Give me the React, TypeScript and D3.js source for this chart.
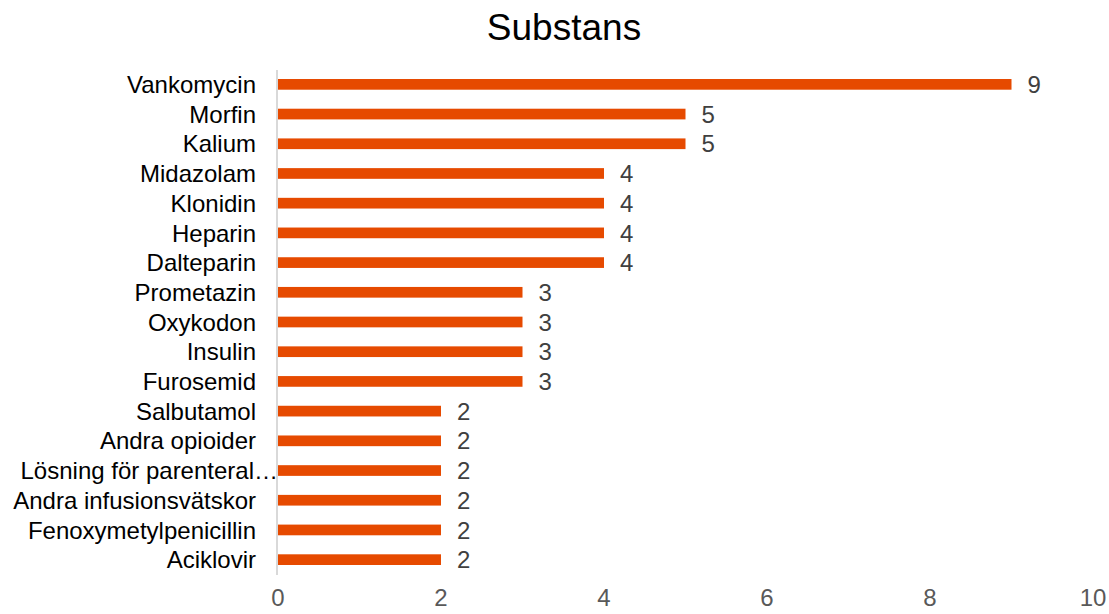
import React, { useEffect, useRef } from "react";
import * as d3 from "d3";

const categories = [
  "Vankomycin",
  "Morfin",
  "Kalium",
  "Midazolam",
  "Klonidin",
  "Heparin",
  "Dalteparin",
  "Prometazin",
  "Oxykodon",
  "Insulin",
  "Furosemid",
  "Salbutamol",
  "Andra opioider",
  "Lösning för parenteral…",
  "Andra infusionsvätskor",
  "Fenoxymetylpenicillin",
  "Aciklovir",
];
const values = [9, 5, 5, 4, 4, 4, 4, 3, 3, 3, 3, 2, 2, 2, 2, 2, 2];
const xTicks = [0, 2, 4, 6, 8, 10];
const title = "Substans";

const font = "'Liberation Sans', Arial, sans-serif";

export default function App() {
  const ref = useRef<SVGSVGElement>(null);

  useEffect(() => {
    if (!ref.current) return;
    const width = 1109;
    const height = 614;
    const svg = d3.select(ref.current);
    svg.selectAll("*").remove();

    const x = d3.scaleLinear().domain([0, 10]).range([278, 1093]);
    const y = d3
      .scaleBand()
      .domain(categories)
      .range([69.5, 574.5])
      .paddingInner(0.64)
      .paddingOuter(0.32);

    svg
      .append("rect")
      .attr("width", width)
      .attr("height", height)
      .attr("fill", "#fff");

    svg
      .append("text")
      .attr("x", 564)
      .attr("y", 40)
      .attr("text-anchor", "middle")
      .attr("font-family", font)
      .attr("font-size", 37)
      .attr("fill", "#000")
      .text(title);

    // bars
    svg
      .append("g")
      .selectAll("rect")
      .data(values)
      .enter()
      .append("rect")
      .attr("x", x(0))
      .attr("y", (d, i) => y(categories[i])!)
      .attr("width", (d) => x(d) - x(0))
      .attr("height", y.bandwidth())
      .attr("fill", "#E64A00");

    // value labels
    svg
      .append("g")
      .selectAll("text")
      .data(values)
      .enter()
      .append("text")
      .attr("x", (d) => x(d) + 16)
      .attr("y", (d, i) => y(categories[i])! + y.bandwidth() / 2)
      .attr("dy", "0.36em")
      .attr("font-family", font)
      .attr("font-size", 24)
      .attr("fill", "#404040")
      .text((d) => d);

    // y axis line
    svg
      .append("line")
      .attr("x1", x(0) - 1)
      .attr("x2", x(0) - 1)
      .attr("y1", 70)
      .attr("y2", 575)
      .attr("stroke", "#d9d9d9")
      .attr("stroke-width", 2);

    // category labels
    svg
      .append("g")
      .selectAll("text")
      .data(categories)
      .enter()
      .append("text")
      .attr("x", (d) => (d.endsWith("…") ? 278 : 256))
      .attr("y", (d) => y(d)! + y.bandwidth() / 2)
      .attr("dy", "0.36em")
      .attr("text-anchor", "end")
      .attr("font-family", font)
      .attr("font-size", 24)
      .attr("fill", "#000")
      .text((d) => d);

    // x ticks
    svg
      .append("g")
      .selectAll("text")
      .data(xTicks)
      .enter()
      .append("text")
      .attr("x", (d) => x(d))
      .attr("y", 606)
      .attr("text-anchor", "middle")
      .attr("font-family", font)
      .attr("font-size", 24)
      .attr("fill", "#595959")
      .text((d) => d);
  }, []);

  return (
    <svg
      ref={ref}
      width={1109}
      height={614}
      style={{ position: "absolute", left: 0, top: 0 }}
    />
  );
}
